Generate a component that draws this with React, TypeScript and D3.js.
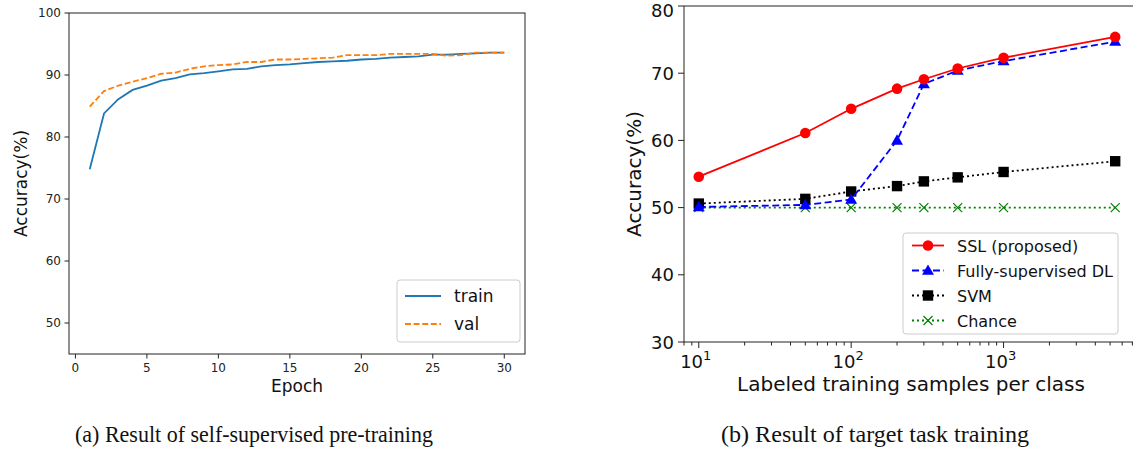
import React, { useEffect, useRef } from 'react';
import * as d3 from 'd3';

// (a) self-supervised pre-training
const epochs = [1, 2, 3, 4, 5, 6, 7, 8, 9, 10, 11, 12, 13, 14, 15, 16, 17, 18, 19, 20, 21, 22, 23, 24, 25, 26, 27, 28, 29, 30];
const trainAcc = [74.8, 83.8, 86.1, 87.6, 88.3, 89.1, 89.5, 90.1, 90.3, 90.6, 90.9, 91.0, 91.4, 91.6, 91.7, 91.9, 92.1, 92.2, 92.3, 92.5, 92.6, 92.8, 92.9, 93.0, 93.3, 93.3, 93.4, 93.5, 93.6, 93.6];
const valAcc = [84.9, 87.4, 88.3, 88.9, 89.5, 90.2, 90.4, 91.0, 91.4, 91.6, 91.7, 92.1, 92.1, 92.5, 92.5, 92.6, 92.7, 92.8, 93.2, 93.2, 93.2, 93.4, 93.4, 93.4, 93.4, 93.1, 93.2, 93.6, 93.6, 93.6];
const leftXTicks = [0, 5, 10, 15, 20, 25, 30];
const leftYTicks = [50, 60, 70, 80, 90, 100];

// (b) target task training
const samples = [10, 50, 100, 200, 300, 500, 1000, 5400];
const sslAcc = [54.6, 61.1, 64.7, 67.7, 69.1, 70.7, 72.3, 75.4];
const fullyAcc = [50.1, 50.4, 51.2, 60.0, 68.4, 70.4, 71.8, 74.7];
const svmAcc = [50.6, 51.3, 52.4, 53.2, 53.9, 54.5, 55.3, 56.9];
const chanceAcc = [50, 50, 50, 50, 50, 50, 50, 50];
const rightYTicks = [30, 40, 50, 60, 70, 80];
const rightXTicks = [10, 100, 1000];

const FONT = 'DejaVu Sans, sans-serif';

export default function App() {
  const svgRef = useRef<SVGSVGElement>(null);

  useEffect(() => {
    const svg = d3.select(svgRef.current);
    svg.selectAll('*').remove();

    // ---------- left chart ----------
    const L = { left: 69, right: 525, top: 13, bottom: 354 };
    const x1 = d3.scaleLinear().domain([-0.45, 31.45]).range([L.left, L.right]);
    const y1 = d3.scaleLinear().domain([45, 100]).range([L.bottom, L.top]);
    const g1 = svg.append('g');

    const line1 = d3.line<number>().x((_, i) => x1(epochs[i])).y((d) => y1(d));
    g1.append('path').datum(trainAcc).attr('d', line1).attr('fill', 'none')
      .attr('stroke', '#1f77b4').attr('stroke-width', 1.8);
    g1.append('path').datum(valAcc).attr('d', line1).attr('fill', 'none')
      .attr('stroke', '#ff7f0e').attr('stroke-width', 1.8).attr('stroke-dasharray', '6,2.6');

    g1.append('rect').attr('x', L.left).attr('y', L.top)
      .attr('width', L.right - L.left).attr('height', L.bottom - L.top)
      .attr('fill', 'none').attr('stroke', '#222').attr('stroke-width', 1);

    leftXTicks.forEach((t) => {
      g1.append('line').attr('x1', x1(t)).attr('x2', x1(t)).attr('y1', L.bottom).attr('y2', L.bottom + 4.5)
        .attr('stroke', '#222');
      g1.append('text').attr('x', x1(t)).attr('y', L.bottom + 18).attr('text-anchor', 'middle')
        .attr('font-family', FONT).attr('font-size', 12).attr('fill', '#222').text(t);
    });
    leftYTicks.forEach((t) => {
      g1.append('line').attr('x1', L.left - 4.5).attr('x2', L.left).attr('y1', y1(t)).attr('y2', y1(t))
        .attr('stroke', '#222');
      g1.append('text').attr('x', L.left - 8).attr('y', y1(t) + 4.3).attr('text-anchor', 'end')
        .attr('font-family', FONT).attr('font-size', 12).attr('fill', '#222').text(t);
    });
    g1.append('text').attr('x', (L.left + L.right) / 2).attr('y', L.bottom + 38).attr('text-anchor', 'middle')
      .attr('font-family', FONT).attr('font-size', 17).attr('fill', '#111').text('Epoch');
    g1.append('text').attr('transform', `translate(27,${(L.top + L.bottom) / 2}) rotate(-90)`)
      .attr('text-anchor', 'middle').attr('font-family', FONT).attr('font-size', 17).attr('fill', '#111')
      .text('Accuracy(%)');

    // legend (a)
    const lg1 = g1.append('g').attr('transform', 'translate(397,280)');
    lg1.append('rect').attr('x', 0).attr('y', 0).attr('width', 123).attr('height', 62).attr('rx', 3)
      .attr('fill', 'white').attr('stroke', '#ccc');
    [['train', '#1f77b4', null], ['val', '#ff7f0e', '6,2.6']].forEach(([name, color, dash], i) => {
      const yy = 16 + i * 28;
      lg1.append('line').attr('x1', 8).attr('x2', 44).attr('y1', yy).attr('y2', yy)
        .attr('stroke', color as string).attr('stroke-width', 1.8)
        .attr('stroke-dasharray', dash as string | null);
      lg1.append('text').attr('x', 57).attr('y', yy + 6).attr('font-family', FONT).attr('font-size', 17)
        .attr('fill', '#111').text(name as string);
    });

    // ---------- right chart ----------
    const R = { left: 684, right: 1200, top: 6, bottom: 342 };
    const x2 = d3.scaleLog().domain([8, 8 * Math.pow(10, (R.right - R.left) / 152.4)]).range([R.left, R.right]);
    const y2 = d3.scaleLinear().domain([30, 80]).range([R.bottom, R.top]);
    const g2 = svg.append('g');

    const series = [
      { name: 'SSL (proposed)', values: sslAcc, color: 'red', dash: null, marker: 'circle' },
      { name: 'Fully-supervised DL', values: fullyAcc, color: 'blue', dash: '7,3.5', marker: 'triangle' },
      { name: 'SVM', values: svmAcc, color: 'black', dash: '2,3', marker: 'square' },
      { name: 'Chance', values: chanceAcc, color: 'green', dash: '2,3', marker: 'x' },
    ];

    const drawMarker = (sel: any, marker: string, color: string, cx: number, cy: number) => {
      if (marker === 'circle') {
        sel.append('circle').attr('cx', cx).attr('cy', cy).attr('r', 5.3).attr('fill', color);
      } else if (marker === 'triangle') {
        sel.append('path').attr('d', d3.symbol(d3.symbolTriangle, 62)()).attr('transform', `translate(${cx},${cy + 0.8})`)
          .attr('fill', color);
      } else if (marker === 'square') {
        sel.append('rect').attr('x', cx - 5.2).attr('y', cy - 5.2).attr('width', 10.4).attr('height', 10.4)
          .attr('fill', color);
      } else {
        sel.append('path').attr('d', `M${cx - 4.5},${cy - 4.5}L${cx + 4.5},${cy + 4.5}M${cx - 4.5},${cy + 4.5}L${cx + 4.5},${cy - 4.5}`)
          .attr('stroke', color).attr('stroke-width', 1.2).attr('fill', 'none');
      }
    };

    const line2 = d3.line<number>().x((_, i) => x2(samples[i])).y((d) => y2(d));
    [...series].reverse().forEach((s) => {
      g2.append('path').datum(s.values).attr('d', line2).attr('fill', 'none')
        .attr('stroke', s.color).attr('stroke-width', 1.8).attr('stroke-dasharray', s.dash);
      s.values.forEach((v, i) => drawMarker(g2, s.marker, s.color, x2(samples[i]), y2(v)));
    });

    // spines
    g2.append('line').attr('x1', R.left).attr('x2', R.left).attr('y1', R.top).attr('y2', R.bottom).attr('stroke', '#222');
    g2.append('line').attr('x1', R.left).attr('x2', 1133).attr('y1', R.top).attr('y2', R.top).attr('stroke', '#222');
    g2.append('line').attr('x1', R.left).attr('x2', 1133).attr('y1', R.bottom).attr('y2', R.bottom).attr('stroke', '#222');

    // ticks
    rightYTicks.forEach((t) => {
      g2.append('line').attr('x1', R.left - 6).attr('x2', R.left).attr('y1', y2(t)).attr('y2', y2(t)).attr('stroke', '#222');
      g2.append('text').attr('x', R.left - 10).attr('y', Math.max(y2(t) + 6.5, 17)).attr('text-anchor', 'end')
        .attr('font-family', FONT).attr('font-size', 18).attr('fill', '#111').text(t);
    });
    const minor: number[] = [];
    [1, 10, 100, 1000].forEach((dec) => {
      for (let k = 2; k <= 9; k++) minor.push(dec * k);
    });
    minor.filter((m) => x2(m) >= R.left && x2(m) <= 1133).forEach((m) => {
      g2.append('line').attr('x1', x2(m)).attr('x2', x2(m)).attr('y1', R.bottom).attr('y2', R.bottom + 3.5).attr('stroke', '#222');
    });
    rightXTicks.forEach((t) => {
      const xx = x2(t);
      g2.append('line').attr('x1', xx).attr('x2', xx).attr('y1', R.bottom).attr('y2', R.bottom + 6).attr('stroke', '#222');
      const tx = g2.append('text').attr('x', xx - 3).attr('y', R.bottom + 26).attr('text-anchor', 'middle')
        .attr('font-family', FONT).attr('font-size', 18).attr('fill', '#111');
      tx.append('tspan').text('10');
      tx.append('tspan').attr('font-size', 13).attr('dy', -8).text(String(Math.round(Math.log10(t))));
    });
    g2.append('text').attr('x', 911).attr('y', R.bottom + 49).attr('text-anchor', 'middle')
      .attr('font-family', FONT).attr('font-size', 20).attr('fill', '#111').text('Labeled training samples per class');
    g2.append('text').attr('transform', `translate(641,${(R.top + R.bottom) / 2}) rotate(-90)`)
      .attr('text-anchor', 'middle').attr('font-family', FONT).attr('font-size', 20).attr('fill', '#111')
      .text('Accuracy(%)');

    // legend (b)
    const lg2 = g2.append('g').attr('transform', 'translate(903,233)');
    lg2.append('rect').attr('x', 0).attr('y', 0).attr('width', 215).attr('height', 101).attr('rx', 3)
      .attr('fill', 'white').attr('stroke', '#ccc');
    series.forEach((s, i) => {
      const yy = 12.5 + i * 25;
      lg2.append('line').attr('x1', 9).attr('x2', 41).attr('y1', yy).attr('y2', yy)
        .attr('stroke', s.color).attr('stroke-width', 1.8).attr('stroke-dasharray', s.dash);
      drawMarker(lg2, s.marker, s.color, 25, yy);
      lg2.append('text').attr('x', 54).attr('y', yy + 6).attr('font-family', FONT).attr('font-size', 16)
        .attr('fill', '#111').text(s.name);
    });

    // captions
    const CAP = 'Linux Libertine, Liberation Serif, serif';
    svg.append('text').attr('x', 254).attr('y', 442).attr('text-anchor', 'middle')
      .attr('font-family', CAP).attr('font-size', 23).attr('fill', '#111')
      .attr('textLength', 358).attr('lengthAdjust', 'spacingAndGlyphs')
      .text('(a) Result of self-supervised pre-training');
    svg.append('text').attr('x', 875).attr('y', 442).attr('text-anchor', 'middle')
      .attr('font-family', CAP).attr('font-size', 23).attr('fill', '#111')
      .attr('textLength', 308).attr('lengthAdjust', 'spacingAndGlyphs')
      .text('(b) Result of target task training');
  }, []);

  return (
    <svg ref={svgRef} width={1133} height={452}
      style={{ position: 'absolute', left: 0, top: 0, background: 'white', display: 'block' }} />
  );
}
